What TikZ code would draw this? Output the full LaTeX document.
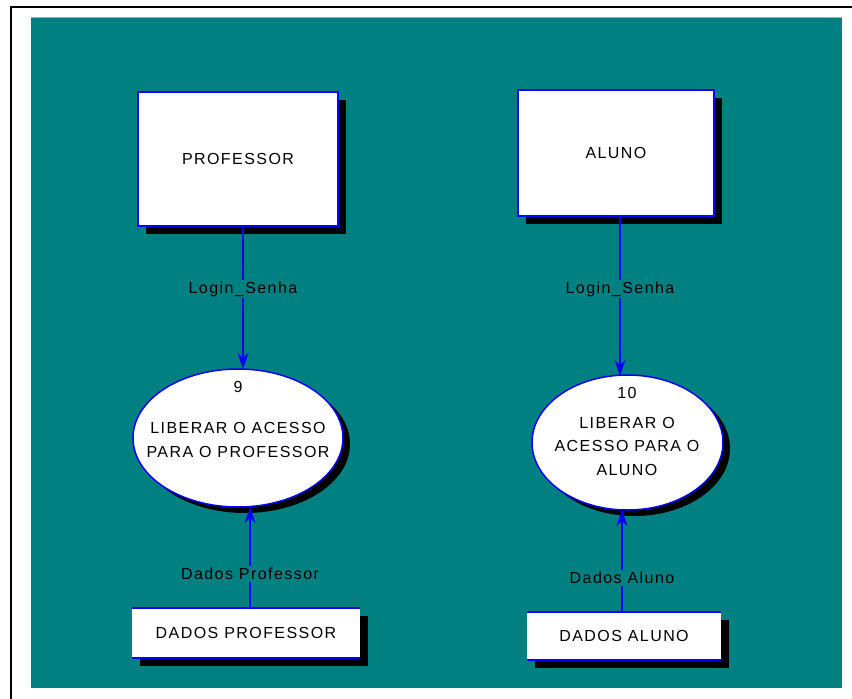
\documentclass[tikz,border=0pt]{standalone}
\usepackage{fontspec}
\setmainfont[LetterSpace=9]{Liberation Sans}
\usetikzlibrary{shapes.geometric,arrows.meta,shadows}
\definecolor{bgteal}{RGB}{0,128,128}
\definecolor{topteal}{RGB}{120,190,190}
\definecolor{lineblue}{RGB}{0,0,255}
\begin{document}
\begin{tikzpicture}[x=1pt,y=-1pt,
  font=\fontsize{16}{23.5}\selectfont,
  shadowed/.style={drop shadow={shadow xshift=8pt,shadow yshift=-8pt,fill=black,opacity=1}},
  extbox/.style={draw=lineblue,line width=1.5pt,fill=white,inner sep=0pt,shadowed},
  procell/.style={ellipse,draw=lineblue,line width=1.5pt,fill=white,inner sep=0pt,
     drop shadow={shadow xshift=7pt,shadow yshift=-6pt,fill=black,opacity=1}},
  storebox/.style={fill=white,inner sep=0pt,shadowed},
  storeline/.style={lineblue,line width=1.5pt},
  flow/.style={lineblue,line width=2pt,-{Stealth[length=16pt,width=11pt,inset=5pt]}},
  flowlabel/.style={fill=bgteal,inner sep=2pt,text=black},
  plain/.style={inner sep=0pt,text=black,align=center}]
\useasboundingbox (0,0) rectangle (852,699);
\clip (0,0) rectangle (852,699);
% frame and background
\fill[white] (0,0) rectangle (852,699);
\draw[black,line width=2.5pt] (11,720) -- (11,7) -- (870,7);
\fill[bgteal] (31,17) rectangle (842,688);
\draw[topteal,line width=1pt] (31,17.5) -- (842,17.5);
% external entities
\node[extbox,minimum width=200pt,minimum height=134pt] (prof) at (238,159) {PROFESSOR};
\node[extbox,minimum width=196pt,minimum height=126pt] (aluno) at (616,153) {ALUNO};
% processes
\node[procell,minimum width=210pt,minimum height=138pt] (p9) at (238,438) {};
\node[plain] (n9) at (238,387) {9};
\node[plain] (t9) at (238,440) {LIBERAR O ACESSO\\PARA O PROFESSOR};
\node[procell,minimum width=191pt,minimum height=135pt] (p10) at (627.5,442.5) {};
\node[plain] (n10) at (627,393) {10};
\node[plain] (t10) at (627,446) {LIBERAR O\\ACESSO PARA O\\ALUNO};
% data stores
\node[storebox,minimum width=228pt,minimum height=50pt] (dprof) at (246,633) {DADOS PROFESSOR};
\draw[storeline] (dprof.north west) -- (dprof.north east) (dprof.south west) -- (dprof.south east);
\node[storebox,minimum width=194pt,minimum height=48pt] (daluno) at (624,636) {DADOS ALUNO};
\draw[storeline] (daluno.north west) -- (daluno.north east) (daluno.south west) -- (daluno.south east);
% connector end points
\coordinate (inP) at (243,369);
\coordinate (inA) at (620,376);
\coordinate (botP) at (250,507);
\coordinate (botA) at (622,510);
% flows
\draw[flow] (prof.south -| inP) -- (inP);
\draw[flow] (aluno.south -| inA) -- (inA);
\draw[flow] (dprof.north -| botP) -- (botP);
\draw[flow] (daluno.north -| botA) -- (botA);
% flow labels
\node[flowlabel] (l1) at (243,289) {Login\_Senha};
\node[flowlabel] (l2) at (620,289) {Login\_Senha};
\node[flowlabel] (l3) at (250,574) {Dados Professor};
\node[flowlabel] (l4) at (622,578) {Dados Aluno};
\end{tikzpicture}
\end{document}
